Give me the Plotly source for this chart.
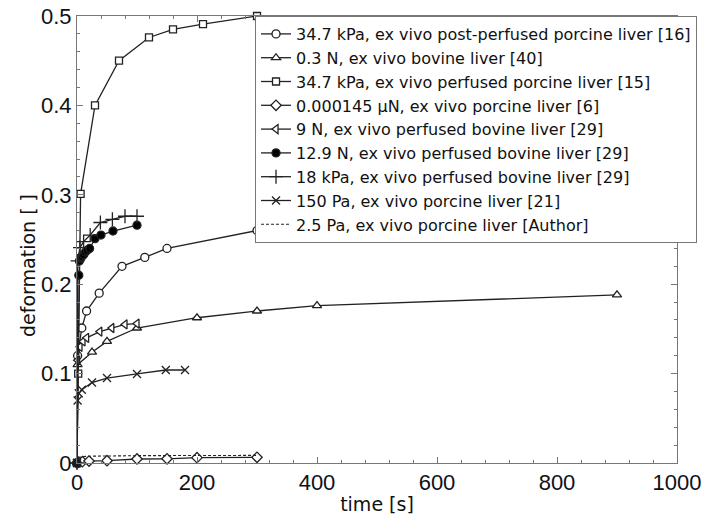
import plotly.graph_objects as go

# ---- data ----
names = [
    "34.7 kPa, ex vivo post-perfused porcine liver [16]",
    "0.3 N, ex vivo bovine liver [40]",
    "34.7 kPa, ex vivo perfused porcine liver [15]",
    "0.000145 µN, ex vivo porcine liver [6]",
    "9 N, ex vivo perfused bovine liver [29]",
    "12.9 N, ex vivo perfused bovine liver [29]",
    "18 kPa, ex vivo perfused bovine liver [29]",
    "150 Pa, ex vivo porcine liver [21]",
    "2.5 Pa, ex vivo porcine liver [Author]",
]

t_post_porcine = [0, 1, 8, 16, 37, 75, 113, 150, 300]
d_post_porcine = [0, 0.12, 0.151, 0.170, 0.190, 0.220, 0.230, 0.240, 0.260]

t_bovine_03 = [0, 1, 25, 50, 100, 200, 300, 400, 900]
d_bovine_03 = [0, 0.110, 0.124, 0.136, 0.151, 0.1625, 0.170, 0.176, 0.188]

t_perf_porcine = [0, 2, 6, 30, 70, 120, 160, 210, 300]
d_perf_porcine = [0, 0.100, 0.301, 0.400, 0.450, 0.476, 0.485, 0.491, 0.500]

t_micro = [0, 3, 9, 20, 50, 100, 150, 200, 300]
d_micro = [0, 0.001, 0.0015, 0.0022, 0.0026, 0.0045, 0.0047, 0.0060, 0.0064]

t_9n = [0, 1, 5, 10, 16, 38, 58, 80, 100]
d_9n = [0, 0.115, 0.130, 0.136, 0.140, 0.147, 0.151, 0.155, 0.156]

t_129n = [0, 3, 4, 6, 8, 11, 14, 17, 21, 30, 40, 60, 100]
d_129n = [0, 0.210, 0.226, 0.229, 0.231, 0.233, 0.236, 0.238, 0.240, 0.251, 0.255, 0.2595, 0.266]

t_18kpa = [0, 1, 5, 11, 22, 39, 59, 80, 100]
d_18kpa = [0, 0.226, 0.241, 0.2476, 0.255, 0.269, 0.2726, 0.276, 0.276]

t_150pa = [0, 1, 3, 8, 25, 50, 100, 148, 180]
d_150pa = [0, 0.070, 0.078, 0.082, 0.090, 0.095, 0.0996, 0.104, 0.104]

t_author = [0, 2, 5, 10, 20, 50, 100, 200, 300]
d_author = [0, 0.005, 0.0065, 0.0072, 0.0076, 0.0080, 0.0082, 0.0084, 0.0085]

x_ticks = [0, 200, 400, 600, 800, 1000]
y_ticks = [0, 0.1, 0.2, 0.3, 0.4, 0.5]
y_tick_text = ["0", "0.1", "0.2", "0.3", "0.4", "0.5"]

series = [
    (t_post_porcine, d_post_porcine, "circle", "white", 8),
    (t_bovine_03, d_bovine_03, "triangle-up", "white", 8),
    (t_perf_porcine, d_perf_porcine, "square", "white", 7),
    (t_micro, d_micro, "diamond", "white", 8),
    (t_9n, d_9n, "triangle-left", "white", 8),
    (t_129n, d_129n, "circle", "black", 8),
    (t_18kpa, d_18kpa, "cross-thin", "black", 10),
    (t_150pa, d_150pa, "x-thin", "black", 8),
]

TICKFONT = "Liberation Sans, Arial, sans-serif"
TEXTFONT = "DejaVu Sans, sans-serif"
LINE = "#222222"
AXC = "#777777"

fig = go.Figure()
for (tx, dy, sym, fill, sz), nm in zip(series, names[:8]):
    fig.add_trace(go.Scatter(
        x=tx, y=dy, name=nm, mode="lines+markers",
        line=dict(color=LINE, width=1.3),
        marker=dict(symbol=sym, size=sz, color=fill,
                    line=dict(color=LINE, width=1.3)),
        cliponaxis=False,
    ))

fig.add_trace(go.Scatter(
    x=t_author, y=d_author, name=names[8], mode="lines",
    line=dict(color=LINE, width=1.1, dash="3px,2px"),
    cliponaxis=False,
))

axis_common = dict(
    showgrid=False, zeroline=False, showline=True, linecolor=AXC,
    linewidth=1, mirror="ticks", ticks="inside", ticklen=6,
    tickcolor=AXC, automargin=False,
    tickfont=dict(family=TICKFONT, size=22, color="#111111"),
)

fig.update_xaxes(
    range=[0, 1000], tickvals=x_ticks,
    minor=dict(ticks="inside", ticklen=3, dtick=40, tickcolor=AXC),
    title=dict(text="time [s]", font=dict(family=TEXTFONT, size=19, color="#111111"),
               standoff=6),
    **axis_common,
)
fig.update_yaxes(
    range=[0, 0.5], tickvals=y_ticks, ticktext=y_tick_text,
    minor=dict(ticks="inside", ticklen=3, dtick=0.02, tickcolor=AXC),
    **axis_common,
)

fig.add_annotation(
    text="deformation [ ]", textangle=-90, showarrow=False,
    xref="paper", yref="paper", x=-0.0817, y=0.443,
    xanchor="center", yanchor="middle",
    font=dict(family=TEXTFONT, size=19, color="#111111"),
)

fig.update_layout(
    width=707, height=515,
    margin=dict(l=77, r=30, t=16, b=52, autoexpand=False),
    paper_bgcolor="white", plot_bgcolor="white",
    showlegend=True,
    legend=dict(
        x=0.2967, y=1.0, xanchor="left", yanchor="top",
        bgcolor="white", bordercolor=AXC, borderwidth=1,
        font=dict(family=TEXTFONT, size=16, color="#111111"),
        itemwidth=30, tracegroupgap=0,
    ),
)

fig.write_html("out.html")
